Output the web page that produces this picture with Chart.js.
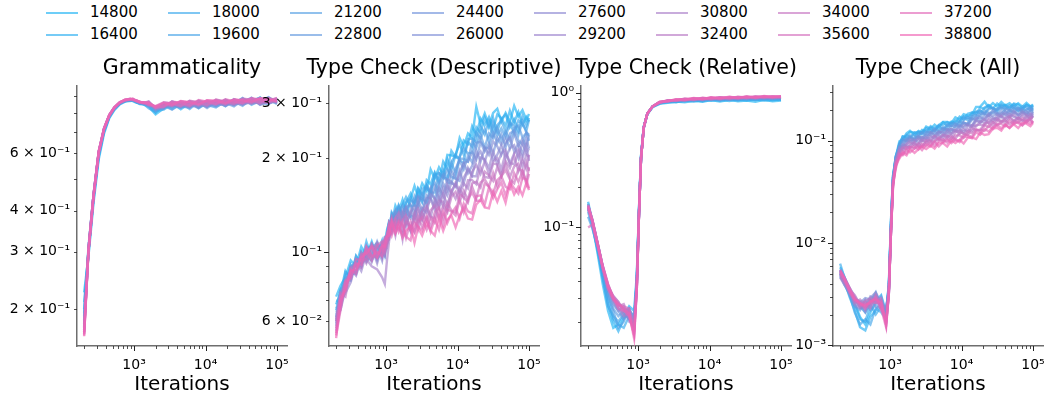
<!DOCTYPE html>
<html>
<head>
<meta charset="utf-8">
<script src="https://cdn.jsdelivr.net/npm/chart.js@4.4.1/dist/chart.umd.min.js"></script>
<style>
  html, body { margin: 0; padding: 0; background: #fff; }
  body { width: 1045px; height: 401px; position: relative; overflow: hidden; font-family: "DejaVu Sans", sans-serif; }
  canvas.panel { position: absolute; top: 70px; }
  .title { position: absolute; top: 57px; font-size: 20.5px; line-height: 1; white-space: nowrap; transform: translateX(-50%); color: #000; }
  .item { position: absolute; height: 20px; font-size: 15px; line-height: 20px; white-space: nowrap; color: #000; }
  .item .swatch { position: absolute; left: 0; top: 10px; width: 32px; height: 2px; }
  .item .lab { position: absolute; left: 44px; top: 0; }
</style>
</head>
<body>
<div id="legend"></div>
<canvas id="c0" class="panel"></canvas>
<canvas id="c1" class="panel"></canvas>
<canvas id="c2" class="panel"></canvas>
<canvas id="c3" class="panel"></canvas>
<div id="titles"></div>
<script>
// checkpoints shown in the legend
const checkpoints = [14800, 16400, 18000, 19600, 21200, 22800, 24400, 26000, 27600, 29200, 30800, 32400, 34000, 35600, 37200, 38800];

// iterations: coarse grid (smooth panels) and dense grid (noisy panels)
const iterations = [200, 230, 270, 320, 380, 450, 530, 630, 750, 880, 960, 1030, 1100, 1200, 1350, 1600, 2000, 2600, 3400, 4500, 6000, 8000, 10500, 14000, 19000, 25000, 33000, 44000, 58000, 76000, 100000];
const iterationsDense = [200, 230, 270, 320, 380, 450, 530, 630, 750, 880, 960, 1030,
  1100, 1200, 1350, 1500, 1700, 1900, 2200, 2500, 2800, 3200, 3700, 4200, 4800, 5500, 6300, 7200, 8200, 9400, 10700, 12200, 14000, 16000, 18300, 21000, 24000, 27500, 31500, 36000, 41000, 47000, 54000, 62000, 71000, 81000, 92000, 100000];

const panelTitles = ['Grammaticality', 'Type Check (Descriptive)', 'Type Check (Relative)', 'Type Check (All)'];

// x ticks
const xTicks = [200, 300, 400, 500, 600, 700, 800, 900, 1000, 2000, 3000, 4000, 5000, 6000, 7000, 8000, 9000, 10000, 20000, 30000, 40000, 50000, 60000, 70000, 80000, 90000, 100000];
const xTickLabels = ['', '', '', '', '', '', '', '', '10³', '', '', '', '', '', '', '', '', '10⁴', '', '', '', '', '', '', '', '', '10⁵'];

// y ticks per panel
const yTicksGram = [0.2, 0.3, 0.4, 0.5, 0.6, 0.7, 0.8, 0.9];
const yLabelsGram = ['2 × 10⁻¹', '3 × 10⁻¹', '4 × 10⁻¹', '', '6 × 10⁻¹', '', '', ''];
const yTicksDesc = [0.06, 0.07, 0.08, 0.09, 0.1, 0.2, 0.3];
const yLabelsDesc = ['6 × 10⁻²', '', '', '', '10⁻¹', '2 × 10⁻¹', '3 × 10⁻¹'];
const yTicksRel = [0.02, 0.03, 0.04, 0.05, 0.06, 0.07, 0.08, 0.09, 0.1, 0.2, 0.3, 0.4, 0.5, 0.6, 0.7, 0.8, 0.9, 1];
const yLabelsRel = ['', '', '', '', '', '', '', '', '10⁻¹', '', '', '', '', '', '', '', '', '10⁰'];
const yTicksAll = [0.001, 0.002, 0.003, 0.004, 0.005, 0.006, 0.007, 0.008, 0.009, 0.01, 0.02, 0.03, 0.04, 0.05, 0.06, 0.07, 0.08, 0.09, 0.1, 0.2, 0.3];
const yLabelsAll = ['10⁻³', '', '', '', '', '', '', '', '', '10⁻²', '', '', '', '', '', '', '', '', '10⁻¹', '', ''];

// Grammaticality (coarse grid), one row per checkpoint
const grammaticality = [
  [0.225, 0.29, 0.42, 0.575, 0.69, 0.77, 0.815, 0.848, 0.865, 0.872, 0.868, 0.862, 0.858, 0.85, 0.848, 0.834, 0.79, 0.825, 0.856, 0.819, 0.857, 0.831, 0.864, 0.84, 0.877, 0.844, 0.884, 0.86, 0.891, 0.859, 0.883],
  [0.21, 0.295, 0.43, 0.585, 0.7, 0.775, 0.82, 0.852, 0.87, 0.868, 0.873, 0.866, 0.86, 0.854, 0.851, 0.842, 0.8, 0.845, 0.82, 0.855, 0.835, 0.859, 0.834, 0.87, 0.841, 0.876, 0.85, 0.886, 0.851, 0.887, 0.865],
  [0.2, 0.305, 0.44, 0.59, 0.705, 0.78, 0.823, 0.856, 0.867, 0.876, 0.87, 0.868, 0.858, 0.856, 0.849, 0.852, 0.81, 0.817, 0.85, 0.831, 0.867, 0.825, 0.856, 0.872, 0.837, 0.88, 0.858, 0.868, 0.889, 0.855, 0.879],
  [0.195, 0.3, 0.435, 0.595, 0.7, 0.776, 0.822, 0.85, 0.872, 0.871, 0.876, 0.864, 0.862, 0.852, 0.853, 0.826, 0.804, 0.849, 0.832, 0.859, 0.821, 0.865, 0.846, 0.83, 0.869, 0.854, 0.888, 0.846, 0.873, 0.879, 0.851],
  [0.19, 0.31, 0.445, 0.6, 0.71, 0.782, 0.826, 0.855, 0.868, 0.877, 0.871, 0.87, 0.863, 0.858, 0.85, 0.86, 0.816, 0.827, 0.86, 0.837, 0.829, 0.869, 0.838, 0.866, 0.847, 0.866, 0.84, 0.882, 0.859, 0.849, 0.885],
  [0.185, 0.3, 0.44, 0.6, 0.708, 0.779, 0.824, 0.853, 0.871, 0.873, 0.877, 0.867, 0.866, 0.855, 0.856, 0.844, 0.824, 0.841, 0.818, 0.849, 0.863, 0.835, 0.868, 0.848, 0.857, 0.836, 0.874, 0.856, 0.867, 0.893, 0.859],
  [0.18, 0.305, 0.445, 0.605, 0.712, 0.784, 0.827, 0.857, 0.869, 0.878, 0.872, 0.871, 0.862, 0.86, 0.852, 0.854, 0.812, 0.853, 0.844, 0.827, 0.853, 0.861, 0.826, 0.862, 0.871, 0.85, 0.862, 0.89, 0.845, 0.871, 0.875],
  [0.178, 0.3, 0.44, 0.6, 0.71, 0.781, 0.825, 0.854, 0.873, 0.874, 0.878, 0.869, 0.867, 0.857, 0.857, 0.838, 0.828, 0.823, 0.866, 0.845, 0.835, 0.867, 0.852, 0.836, 0.861, 0.876, 0.848, 0.864, 0.883, 0.855, 0.867],
  [0.176, 0.305, 0.445, 0.605, 0.714, 0.785, 0.828, 0.858, 0.87, 0.879, 0.874, 0.872, 0.864, 0.861, 0.854, 0.864, 0.818, 0.843, 0.834, 0.863, 0.847, 0.827, 0.866, 0.86, 0.839, 0.862, 0.882, 0.854, 0.861, 0.889, 0.853],
  [0.175, 0.3, 0.44, 0.602, 0.711, 0.782, 0.826, 0.856, 0.874, 0.876, 0.879, 0.87, 0.868, 0.858, 0.858, 0.848, 0.832, 0.855, 0.848, 0.833, 0.867, 0.851, 0.834, 0.874, 0.859, 0.844, 0.872, 0.88, 0.847, 0.865, 0.881],
  [0.173, 0.305, 0.445, 0.607, 0.715, 0.786, 0.829, 0.859, 0.872, 0.88, 0.875, 0.873, 0.865, 0.862, 0.855, 0.856, 0.822, 0.829, 0.862, 0.851, 0.831, 0.869, 0.856, 0.846, 0.875, 0.858, 0.846, 0.874, 0.887, 0.859, 0.871],
  [0.172, 0.3, 0.44, 0.603, 0.712, 0.783, 0.827, 0.857, 0.875, 0.877, 0.88, 0.871, 0.869, 0.859, 0.859, 0.842, 0.836, 0.847, 0.838, 0.865, 0.855, 0.839, 0.87, 0.858, 0.845, 0.878, 0.864, 0.852, 0.875, 0.883, 0.857],
  [0.17, 0.305, 0.445, 0.608, 0.716, 0.787, 0.83, 0.86, 0.873, 0.881, 0.876, 0.874, 0.866, 0.863, 0.856, 0.866, 0.826, 0.859, 0.852, 0.837, 0.869, 0.857, 0.84, 0.876, 0.863, 0.848, 0.88, 0.872, 0.853, 0.873, 0.887],
  [0.17, 0.3, 0.44, 0.604, 0.713, 0.784, 0.828, 0.858, 0.876, 0.878, 0.881, 0.872, 0.87, 0.86, 0.86, 0.85, 0.834, 0.835, 0.864, 0.853, 0.839, 0.871, 0.86, 0.848, 0.877, 0.862, 0.854, 0.886, 0.869, 0.857, 0.875],
  [0.168, 0.305, 0.445, 0.609, 0.717, 0.788, 0.831, 0.861, 0.874, 0.882, 0.877, 0.875, 0.867, 0.864, 0.857, 0.86, 0.83, 0.851, 0.84, 0.867, 0.859, 0.845, 0.872, 0.866, 0.851, 0.876, 0.87, 0.858, 0.885, 0.877, 0.863],
  [0.168, 0.3, 0.44, 0.605, 0.714, 0.785, 0.829, 0.859, 0.877, 0.879, 0.882, 0.873, 0.871, 0.861, 0.861, 0.846, 0.838, 0.861, 0.854, 0.841, 0.871, 0.861, 0.846, 0.878, 0.865, 0.854, 0.884, 0.876, 0.859, 0.887, 0.873],
  [0.166, 0.305, 0.445, 0.61, 0.718, 0.789, 0.832, 0.862, 0.875, 0.883, 0.878, 0.876, 0.868, 0.865, 0.858, 0.862, 0.828, 0.837, 0.866, 0.857, 0.843, 0.875, 0.864, 0.852, 0.879, 0.866, 0.856, 0.888, 0.875, 0.863, 0.889],
  [0.165, 0.3, 0.44, 0.606, 0.715, 0.786, 0.83, 0.86, 0.878, 0.88, 0.883, 0.874, 0.872, 0.862, 0.862, 0.854, 0.836, 0.857, 0.846, 0.869, 0.861, 0.849, 0.874, 0.87, 0.855, 0.88, 0.872, 0.864, 0.887, 0.879, 0.869]
];

// Type Check (Descriptive) (dense grid)
const typeCheckDescriptive = [
  [0.072, 0.078, 0.083, 0.094, 0.09, 0.104, 0.097, 0.108, 0.096, 0.106, 0.1, 0.118, 0.124, 0.123, 0.141, 0.134, 0.147, 0.134, 0.148, 0.163, 0.151, 0.166, 0.157, 0.184, 0.172, 0.187, 0.177, 0.205, 0.204, 0.202, 0.232, 0.218, 0.24, 0.233, 0.292, 0.257, 0.278, 0.254, 0.279, 0.288, 0.262, 0.279, 0.261, 0.294, 0.272, 0.285, 0.265, 0.277],
  [0.068, 0.074, 0.087, 0.082, 0.097, 0.092, 0.108, 0.096, 0.105, 0.097, 0.112, 0.113, 0.118, 0.133, 0.128, 0.141, 0.131, 0.144, 0.154, 0.144, 0.159, 0.146, 0.17, 0.165, 0.18, 0.169, 0.195, 0.185, 0.211, 0.201, 0.201, 0.228, 0.222, 0.253, 0.238, 0.268, 0.255, 0.271, 0.248, 0.276, 0.269, 0.254, 0.284, 0.26, 0.281, 0.256, 0.271, 0.262],
  [0.065, 0.076, 0.079, 0.091, 0.086, 0.1, 0.094, 0.106, 0.099, 0.109, 0.1, 0.116, 0.125, 0.123, 0.134, 0.127, 0.142, 0.15, 0.14, 0.141, 0.16, 0.153, 0.164, 0.153, 0.177, 0.179, 0.173, 0.198, 0.183, 0.206, 0.222, 0.205, 0.225, 0.218, 0.251, 0.241, 0.27, 0.25, 0.269, 0.244, 0.267, 0.276, 0.251, 0.266, 0.245, 0.273, 0.255, 0.269],
  [0.07, 0.069, 0.086, 0.083, 0.097, 0.09, 0.103, 0.104, 0.095, 0.101, 0.11, 0.108, 0.114, 0.134, 0.128, 0.138, 0.129, 0.144, 0.149, 0.141, 0.14, 0.16, 0.16, 0.155, 0.178, 0.166, 0.183, 0.171, 0.194, 0.205, 0.197, 0.193, 0.23, 0.231, 0.225, 0.253, 0.238, 0.263, 0.237, 0.255, 0.264, 0.243, 0.262, 0.239, 0.264, 0.257, 0.245, 0.265],
  [0.062, 0.075, 0.076, 0.089, 0.093, 0.096, 0.095, 0.103, 0.107, 0.097, 0.104, 0.115, 0.121, 0.12, 0.135, 0.141, 0.131, 0.129, 0.146, 0.144, 0.152, 0.144, 0.163, 0.155, 0.155, 0.179, 0.174, 0.171, 0.193, 0.179, 0.202, 0.215, 0.207, 0.208, 0.241, 0.231, 0.248, 0.227, 0.259, 0.236, 0.249, 0.234, 0.259, 0.254, 0.237, 0.262, 0.241, 0.236],
  [0.066, 0.068, 0.082, 0.086, 0.085, 0.1, 0.096, 0.094, 0.104, 0.106, 0.098, 0.11, 0.114, 0.13, 0.121, 0.135, 0.141, 0.132, 0.13, 0.151, 0.143, 0.153, 0.142, 0.16, 0.167, 0.157, 0.172, 0.184, 0.174, 0.172, 0.199, 0.199, 0.195, 0.226, 0.216, 0.237, 0.216, 0.24, 0.232, 0.25, 0.228, 0.243, 0.228, 0.25, 0.254, 0.233, 0.241, 0.227],
  [0.06, 0.072, 0.075, 0.09, 0.092, 0.09, 0.105, 0.097, 0.108, 0.099, 0.108, 0.107, 0.125, 0.122, 0.132, 0.124, 0.133, 0.14, 0.13, 0.131, 0.151, 0.148, 0.144, 0.16, 0.147, 0.166, 0.177, 0.167, 0.166, 0.185, 0.197, 0.184, 0.203, 0.194, 0.224, 0.226, 0.216, 0.215, 0.241, 0.224, 0.239, 0.217, 0.24, 0.245, 0.228, 0.221, 0.242, 0.238],
  [0.064, 0.066, 0.08, 0.081, 0.095, 0.093, 0.098, 0.106, 0.094, 0.107, 0.101, 0.112, 0.112, 0.128, 0.136, 0.125, 0.128, 0.139, 0.142, 0.133, 0.142, 0.133, 0.152, 0.148, 0.162, 0.149, 0.166, 0.158, 0.182, 0.172, 0.169, 0.193, 0.195, 0.209, 0.198, 0.225, 0.21, 0.223, 0.207, 0.232, 0.221, 0.233, 0.215, 0.24, 0.219, 0.231, 0.217, 0.237],
  [0.058, 0.071, 0.081, 0.084, 0.087, 0.098, 0.093, 0.1, 0.104, 0.094, 0.106, 0.109, 0.123, 0.116, 0.128, 0.135, 0.125, 0.138, 0.128, 0.128, 0.147, 0.136, 0.149, 0.149, 0.14, 0.161, 0.151, 0.171, 0.168, 0.162, 0.18, 0.193, 0.179, 0.189, 0.211, 0.195, 0.216, 0.205, 0.226, 0.218, 0.205, 0.224, 0.233, 0.21, 0.223, 0.206, 0.23, 0.215],
  [0.063, 0.065, 0.076, 0.088, 0.084, 0.095, 0.102, 0.093, 0.105, 0.1, 0.097, 0.111, 0.11, 0.129, 0.122, 0.131, 0.136, 0.123, 0.134, 0.14, 0.127, 0.138, 0.134, 0.153, 0.149, 0.141, 0.161, 0.152, 0.167, 0.163, 0.182, 0.166, 0.186, 0.176, 0.201, 0.21, 0.195, 0.214, 0.197, 0.205, 0.22, 0.2, 0.215, 0.22, 0.2, 0.224, 0.207, 0.215],
  [0.059, 0.07, 0.074, 0.08, 0.093, 0.087, 0.099, 0.104, 0.092, 0.105, 0.106, 0.104, 0.121, 0.129, 0.12, 0.124, 0.133, 0.121, 0.136, 0.127, 0.137, 0.127, 0.14, 0.147, 0.137, 0.15, 0.14, 0.164, 0.154, 0.167, 0.157, 0.173, 0.184, 0.175, 0.175, 0.201, 0.198, 0.186, 0.21, 0.191, 0.207, 0.213, 0.192, 0.207, 0.214, 0.2, 0.218, 0.196],
  [0.061, 0.073, 0.081, 0.086, 0.091, 0.092, 0.095, 0.09, 0.088, 0.083, 0.079, 0.094, 0.108, 0.126, 0.113, 0.129, 0.11, 0.131, 0.117, 0.133, 0.138, 0.127, 0.138, 0.129, 0.147, 0.138, 0.154, 0.141, 0.157, 0.165, 0.153, 0.166, 0.16, 0.181, 0.19, 0.178, 0.195, 0.178, 0.195, 0.2, 0.184, 0.208, 0.193, 0.191, 0.209, 0.187, 0.205, 0.202],
  [0.056, 0.066, 0.079, 0.087, 0.086, 0.099, 0.092, 0.101, 0.107, 0.096, 0.109, 0.111, 0.123, 0.116, 0.128, 0.133, 0.118, 0.125, 0.117, 0.133, 0.124, 0.135, 0.141, 0.13, 0.128, 0.146, 0.145, 0.137, 0.157, 0.148, 0.16, 0.149, 0.17, 0.17, 0.165, 0.187, 0.174, 0.173, 0.192, 0.191, 0.176, 0.196, 0.186, 0.204, 0.182, 0.198, 0.185, 0.205],
  [0.06, 0.074, 0.072, 0.089, 0.091, 0.089, 0.103, 0.097, 0.096, 0.106, 0.099, 0.106, 0.111, 0.127, 0.121, 0.118, 0.127, 0.131, 0.118, 0.128, 0.118, 0.133, 0.126, 0.136, 0.141, 0.128, 0.141, 0.134, 0.15, 0.156, 0.145, 0.157, 0.147, 0.166, 0.168, 0.161, 0.181, 0.176, 0.169, 0.187, 0.175, 0.192, 0.174, 0.188, 0.192, 0.174, 0.194, 0.182],
  [0.057, 0.067, 0.081, 0.082, 0.095, 0.094, 0.095, 0.106, 0.099, 0.101, 0.111, 0.113, 0.123, 0.116, 0.128, 0.12, 0.114, 0.125, 0.121, 0.116, 0.131, 0.12, 0.131, 0.12, 0.134, 0.139, 0.129, 0.144, 0.136, 0.134, 0.153, 0.15, 0.144, 0.162, 0.149, 0.167, 0.171, 0.162, 0.179, 0.162, 0.175, 0.183, 0.171, 0.166, 0.185, 0.182, 0.169, 0.187],
  [0.055, 0.072, 0.075, 0.088, 0.085, 0.098, 0.1, 0.094, 0.105, 0.108, 0.101, 0.108, 0.113, 0.125, 0.115, 0.126, 0.122, 0.111, 0.125, 0.116, 0.125, 0.129, 0.118, 0.129, 0.124, 0.136, 0.122, 0.137, 0.135, 0.131, 0.147, 0.134, 0.148, 0.155, 0.146, 0.146, 0.166, 0.162, 0.154, 0.17, 0.175, 0.162, 0.159, 0.179, 0.168, 0.181, 0.165, 0.178],
  [0.054, 0.065, 0.08, 0.083, 0.092, 0.091, 0.104, 0.097, 0.1, 0.097, 0.109, 0.114, 0.12, 0.113, 0.123, 0.116, 0.125, 0.112, 0.109, 0.124, 0.121, 0.117, 0.128, 0.116, 0.128, 0.118, 0.135, 0.124, 0.133, 0.139, 0.128, 0.143, 0.135, 0.133, 0.151, 0.152, 0.142, 0.161, 0.149, 0.159, 0.167, 0.152, 0.168, 0.16, 0.154, 0.173, 0.171, 0.16],
  [0.053, 0.07, 0.076, 0.087, 0.088, 0.096, 0.099, 0.104, 0.096, 0.105, 0.104, 0.112, 0.113, 0.125, 0.115, 0.123, 0.111, 0.117, 0.121, 0.107, 0.12, 0.113, 0.124, 0.117, 0.113, 0.129, 0.117, 0.127, 0.131, 0.12, 0.131, 0.138, 0.128, 0.127, 0.142, 0.147, 0.139, 0.138, 0.156, 0.145, 0.157, 0.144, 0.166, 0.153, 0.162, 0.152, 0.167, 0.158]
];

// Type Check (Relative) (coarse grid)
const typeCheckRelative = [
  [0.15, 0.105, 0.065, 0.038, 0.024, 0.018, 0.019, 0.022, 0.026, 0.024, 0.045, 0.14, 0.34, 0.56, 0.69, 0.78, 0.825, 0.838, 0.858, 0.847, 0.87, 0.854, 0.879, 0.858, 0.883, 0.862, 0.874, 0.854, 0.882, 0.86, 0.872],
  [0.155, 0.108, 0.068, 0.042, 0.027, 0.02, 0.017, 0.021, 0.024, 0.022, 0.042, 0.135, 0.335, 0.555, 0.695, 0.782, 0.837, 0.845, 0.852, 0.868, 0.857, 0.881, 0.867, 0.885, 0.865, 0.888, 0.871, 0.888, 0.872, 0.88, 0.887],
  [0.13, 0.1, 0.07, 0.045, 0.03, 0.021, 0.019, 0.018, 0.022, 0.02, 0.04, 0.13, 0.33, 0.55, 0.7, 0.785, 0.828, 0.86, 0.848, 0.873, 0.878, 0.863, 0.89, 0.873, 0.895, 0.874, 0.895, 0.881, 0.899, 0.88, 0.889],
  [0.145, 0.112, 0.072, 0.043, 0.026, 0.022, 0.02, 0.023, 0.021, 0.019, 0.043, 0.138, 0.34, 0.56, 0.7, 0.787, 0.842, 0.85, 0.87, 0.862, 0.885, 0.872, 0.894, 0.876, 0.898, 0.883, 0.904, 0.885, 0.893, 0.905, 0.893],
  [0.12, 0.098, 0.071, 0.047, 0.031, 0.024, 0.018, 0.02, 0.025, 0.021, 0.039, 0.128, 0.325, 0.545, 0.7, 0.788, 0.834, 0.863, 0.861, 0.88, 0.872, 0.895, 0.879, 0.897, 0.884, 0.901, 0.889, 0.908, 0.894, 0.9, 0.908],
  [0.14, 0.108, 0.074, 0.048, 0.033, 0.025, 0.022, 0.024, 0.022, 0.02, 0.041, 0.132, 0.33, 0.55, 0.7, 0.789, 0.845, 0.853, 0.875, 0.868, 0.891, 0.875, 0.901, 0.882, 0.907, 0.888, 0.91, 0.893, 0.914, 0.898, 0.905],
  [0.135, 0.11, 0.076, 0.05, 0.034, 0.027, 0.024, 0.021, 0.024, 0.019, 0.038, 0.127, 0.325, 0.545, 0.7, 0.79, 0.837, 0.868, 0.864, 0.886, 0.875, 0.899, 0.885, 0.906, 0.887, 0.91, 0.895, 0.915, 0.902, 0.91, 0.917],
  [0.142, 0.112, 0.077, 0.051, 0.036, 0.029, 0.025, 0.023, 0.021, 0.018, 0.04, 0.13, 0.33, 0.55, 0.7, 0.79, 0.848, 0.856, 0.879, 0.87, 0.896, 0.881, 0.906, 0.887, 0.913, 0.895, 0.918, 0.9, 0.92, 0.904, 0.914],
  [0.138, 0.109, 0.075, 0.049, 0.035, 0.03, 0.027, 0.025, 0.023, 0.021, 0.039, 0.128, 0.328, 0.548, 0.7, 0.79, 0.839, 0.869, 0.867, 0.891, 0.878, 0.902, 0.888, 0.91, 0.893, 0.916, 0.901, 0.921, 0.908, 0.92, 0.911],
  [0.145, 0.113, 0.078, 0.052, 0.037, 0.028, 0.024, 0.026, 0.02, 0.019, 0.037, 0.125, 0.322, 0.545, 0.7, 0.79, 0.849, 0.858, 0.882, 0.874, 0.899, 0.884, 0.91, 0.891, 0.917, 0.9, 0.922, 0.904, 0.926, 0.908, 0.922],
  [0.14, 0.11, 0.076, 0.05, 0.036, 0.031, 0.028, 0.024, 0.025, 0.02, 0.038, 0.128, 0.328, 0.55, 0.7, 0.79, 0.84, 0.872, 0.87, 0.894, 0.882, 0.907, 0.892, 0.915, 0.897, 0.92, 0.905, 0.926, 0.912, 0.926, 0.917],
  [0.143, 0.112, 0.077, 0.051, 0.035, 0.029, 0.026, 0.022, 0.023, 0.018, 0.036, 0.125, 0.325, 0.548, 0.7, 0.79, 0.85, 0.86, 0.883, 0.877, 0.901, 0.887, 0.913, 0.895, 0.921, 0.902, 0.926, 0.909, 0.93, 0.914, 0.927],
  [0.148, 0.114, 0.078, 0.052, 0.038, 0.03, 0.027, 0.025, 0.024, 0.017, 0.037, 0.127, 0.327, 0.55, 0.7, 0.79, 0.842, 0.873, 0.873, 0.896, 0.885, 0.909, 0.896, 0.919, 0.902, 0.925, 0.91, 0.93, 0.918, 0.932, 0.921],
  [0.136, 0.108, 0.075, 0.05, 0.036, 0.03, 0.026, 0.027, 0.022, 0.018, 0.036, 0.126, 0.326, 0.55, 0.7, 0.79, 0.852, 0.861, 0.886, 0.88, 0.904, 0.89, 0.916, 0.9, 0.924, 0.907, 0.931, 0.913, 0.934, 0.918, 0.932],
  [0.144, 0.112, 0.077, 0.051, 0.037, 0.031, 0.028, 0.024, 0.023, 0.016, 0.035, 0.124, 0.324, 0.548, 0.7, 0.79, 0.843, 0.875, 0.874, 0.9, 0.888, 0.912, 0.9, 0.922, 0.906, 0.928, 0.914, 0.934, 0.922, 0.936, 0.926],
  [0.1, 0.105, 0.074, 0.05, 0.035, 0.029, 0.027, 0.026, 0.025, 0.017, 0.036, 0.126, 0.326, 0.55, 0.7, 0.79, 0.853, 0.863, 0.889, 0.881, 0.907, 0.894, 0.919, 0.903, 0.927, 0.911, 0.934, 0.918, 0.939, 0.923, 0.936],
  [0.146, 0.113, 0.077, 0.052, 0.038, 0.03, 0.025, 0.024, 0.022, 0.016, 0.035, 0.125, 0.325, 0.55, 0.7, 0.79, 0.844, 0.876, 0.877, 0.902, 0.891, 0.915, 0.902, 0.925, 0.909, 0.931, 0.919, 0.937, 0.925, 0.939, 0.93],
  [0.142, 0.111, 0.076, 0.051, 0.037, 0.03, 0.027, 0.025, 0.023, 0.015, 0.035, 0.124, 0.324, 0.55, 0.7, 0.79, 0.855, 0.864, 0.891, 0.884, 0.91, 0.897, 0.922, 0.907, 0.93, 0.914, 0.937, 0.92, 0.942, 0.927, 0.941]
];

// Type Check (All) (dense grid)
const typeCheckAll = [
  [0.0058, 0.0047, 0.0034, 0.0026, 0.0019, 0.0016, 0.0021, 0.0027, 0.0031, 0.0021, 0.004, 0.017, 0.046, 0.069, 0.099, 0.103, 0.118, 0.125, 0.115, 0.125, 0.12, 0.138, 0.131, 0.144, 0.133, 0.153, 0.153, 0.149, 0.17, 0.161, 0.182, 0.176, 0.179, 0.214, 0.216, 0.241, 0.213, 0.234, 0.216, 0.24, 0.221, 0.233, 0.214, 0.233, 0.216, 0.235, 0.217, 0.222],
  [0.0055, 0.0043, 0.003, 0.0022, 0.0015, 0.0014, 0.0019, 0.0022, 0.0027, 0.0019, 0.0036, 0.016, 0.044, 0.071, 0.088, 0.11, 0.11, 0.122, 0.12, 0.114, 0.128, 0.124, 0.139, 0.13, 0.143, 0.152, 0.14, 0.154, 0.151, 0.172, 0.162, 0.184, 0.189, 0.183, 0.212, 0.205, 0.223, 0.206, 0.232, 0.214, 0.225, 0.212, 0.231, 0.226, 0.205, 0.226, 0.212, 0.227],
  [0.0063, 0.0046, 0.0036, 0.0025, 0.0018, 0.0017, 0.0025, 0.002, 0.0024, 0.0022, 0.0038, 0.016, 0.046, 0.066, 0.094, 0.11, 0.106, 0.106, 0.121, 0.122, 0.116, 0.133, 0.126, 0.125, 0.141, 0.143, 0.152, 0.141, 0.158, 0.152, 0.174, 0.166, 0.189, 0.191, 0.185, 0.212, 0.222, 0.206, 0.203, 0.226, 0.219, 0.206, 0.228, 0.21, 0.203, 0.222, 0.218, 0.203],
  [0.005, 0.0039, 0.0032, 0.0021, 0.0016, 0.0018, 0.0016, 0.0023, 0.0021, 0.0018, 0.0034, 0.015, 0.042, 0.07, 0.093, 0.098, 0.114, 0.109, 0.106, 0.122, 0.12, 0.118, 0.135, 0.124, 0.14, 0.129, 0.144, 0.15, 0.142, 0.157, 0.17, 0.159, 0.172, 0.193, 0.197, 0.186, 0.211, 0.21, 0.198, 0.222, 0.204, 0.221, 0.206, 0.197, 0.217, 0.214, 0.198, 0.219],
  [0.0054, 0.0044, 0.0035, 0.0028, 0.0024, 0.0021, 0.0027, 0.0033, 0.0023, 0.0021, 0.0037, 0.015, 0.044, 0.063, 0.094, 0.103, 0.101, 0.113, 0.113, 0.106, 0.122, 0.124, 0.119, 0.134, 0.126, 0.136, 0.13, 0.149, 0.149, 0.141, 0.159, 0.17, 0.163, 0.175, 0.197, 0.182, 0.203, 0.21, 0.191, 0.208, 0.213, 0.199, 0.217, 0.195, 0.208, 0.196, 0.215, 0.198],
  [0.0047, 0.004, 0.0031, 0.0024, 0.0022, 0.0027, 0.0022, 0.0025, 0.003, 0.002, 0.0035, 0.015, 0.041, 0.069, 0.085, 0.103, 0.099, 0.109, 0.102, 0.115, 0.12, 0.111, 0.123, 0.13, 0.123, 0.122, 0.141, 0.14, 0.136, 0.153, 0.149, 0.148, 0.175, 0.178, 0.173, 0.196, 0.188, 0.185, 0.205, 0.21, 0.193, 0.188, 0.206, 0.21, 0.192, 0.204, 0.209, 0.192],
  [0.0053, 0.0046, 0.0037, 0.003, 0.0025, 0.0021, 0.0026, 0.0032, 0.0025, 0.0022, 0.0036, 0.014, 0.044, 0.064, 0.089, 0.089, 0.104, 0.109, 0.102, 0.11, 0.105, 0.121, 0.122, 0.116, 0.122, 0.133, 0.122, 0.139, 0.146, 0.138, 0.15, 0.145, 0.166, 0.158, 0.184, 0.185, 0.179, 0.2, 0.186, 0.183, 0.204, 0.198, 0.187, 0.207, 0.191, 0.184, 0.2, 0.204],
  [0.0051, 0.0042, 0.0032, 0.0027, 0.0026, 0.0029, 0.0028, 0.0024, 0.0023, 0.0019, 0.0034, 0.014, 0.04, 0.068, 0.08, 0.096, 0.104, 0.098, 0.106, 0.111, 0.102, 0.115, 0.114, 0.125, 0.115, 0.129, 0.13, 0.122, 0.141, 0.134, 0.152, 0.142, 0.16, 0.17, 0.159, 0.179, 0.175, 0.194, 0.179, 0.194, 0.179, 0.2, 0.194, 0.182, 0.2, 0.179, 0.197, 0.185],
  [0.0048, 0.0041, 0.0035, 0.0029, 0.0023, 0.0024, 0.003, 0.0028, 0.0027, 0.0021, 0.0035, 0.014, 0.042, 0.06, 0.087, 0.088, 0.098, 0.104, 0.095, 0.107, 0.109, 0.104, 0.12, 0.113, 0.123, 0.114, 0.129, 0.13, 0.125, 0.142, 0.135, 0.147, 0.141, 0.165, 0.17, 0.161, 0.184, 0.174, 0.185, 0.171, 0.192, 0.178, 0.196, 0.178, 0.189, 0.194, 0.176, 0.191],
  [0.0052, 0.0045, 0.0034, 0.0028, 0.0027, 0.0023, 0.0029, 0.0033, 0.0026, 0.0023, 0.0034, 0.014, 0.038, 0.064, 0.085, 0.085, 0.092, 0.103, 0.102, 0.096, 0.109, 0.104, 0.112, 0.105, 0.121, 0.122, 0.114, 0.13, 0.124, 0.124, 0.142, 0.143, 0.139, 0.16, 0.149, 0.167, 0.179, 0.167, 0.165, 0.184, 0.183, 0.17, 0.189, 0.176, 0.192, 0.174, 0.185, 0.171],
  [0.005, 0.0041, 0.0033, 0.0025, 0.0023, 0.0028, 0.0024, 0.003, 0.0024, 0.0018, 0.0032, 0.014, 0.041, 0.064, 0.076, 0.092, 0.089, 0.089, 0.1, 0.104, 0.099, 0.109, 0.101, 0.112, 0.113, 0.108, 0.124, 0.116, 0.129, 0.129, 0.122, 0.139, 0.136, 0.156, 0.155, 0.15, 0.17, 0.156, 0.177, 0.176, 0.166, 0.184, 0.171, 0.166, 0.183, 0.181, 0.165, 0.185],
  [0.0046, 0.0039, 0.0034, 0.0029, 0.0026, 0.0022, 0.0028, 0.0026, 0.0028, 0.0016, 0.0031, 0.013, 0.038, 0.064, 0.08, 0.081, 0.093, 0.098, 0.09, 0.094, 0.103, 0.095, 0.108, 0.112, 0.105, 0.115, 0.107, 0.118, 0.126, 0.117, 0.13, 0.122, 0.142, 0.138, 0.153, 0.162, 0.149, 0.165, 0.159, 0.174, 0.157, 0.172, 0.179, 0.163, 0.176, 0.162, 0.181, 0.169],
  [0.0051, 0.0044, 0.0036, 0.0026, 0.0028, 0.0025, 0.0023, 0.0029, 0.0022, 0.0019, 0.0033, 0.013, 0.041, 0.057, 0.081, 0.085, 0.083, 0.093, 0.097, 0.088, 0.1, 0.101, 0.097, 0.11, 0.102, 0.113, 0.112, 0.105, 0.121, 0.126, 0.117, 0.129, 0.124, 0.143, 0.144, 0.141, 0.16, 0.15, 0.166, 0.152, 0.167, 0.173, 0.157, 0.168, 0.156, 0.175, 0.162, 0.174],
  [0.0054, 0.0045, 0.0035, 0.0031, 0.0025, 0.0027, 0.0029, 0.0027, 0.0029, 0.0017, 0.0032, 0.013, 0.037, 0.061, 0.07, 0.086, 0.087, 0.084, 0.094, 0.088, 0.087, 0.101, 0.101, 0.097, 0.108, 0.102, 0.111, 0.112, 0.105, 0.12, 0.119, 0.114, 0.133, 0.127, 0.128, 0.148, 0.15, 0.14, 0.158, 0.157, 0.148, 0.167, 0.154, 0.168, 0.159, 0.152, 0.17, 0.166],
  [0.0049, 0.0042, 0.0036, 0.0027, 0.0024, 0.0026, 0.0025, 0.0031, 0.0024, 0.0017, 0.0031, 0.013, 0.04, 0.056, 0.076, 0.074, 0.086, 0.087, 0.084, 0.094, 0.088, 0.098, 0.091, 0.1, 0.105, 0.097, 0.106, 0.099, 0.113, 0.113, 0.107, 0.123, 0.118, 0.13, 0.122, 0.142, 0.136, 0.153, 0.141, 0.153, 0.159, 0.145, 0.157, 0.151, 0.166, 0.152, 0.164, 0.15],
  [0.0052, 0.0044, 0.0033, 0.0028, 0.0026, 0.0023, 0.0027, 0.0026, 0.0027, 0.0016, 0.0033, 0.013, 0.036, 0.06, 0.07, 0.079, 0.075, 0.087, 0.088, 0.082, 0.093, 0.089, 0.098, 0.089, 0.099, 0.103, 0.096, 0.108, 0.101, 0.101, 0.114, 0.114, 0.109, 0.127, 0.128, 0.125, 0.141, 0.13, 0.147, 0.146, 0.139, 0.157, 0.145, 0.157, 0.143, 0.161, 0.157, 0.148],
  [0.0055, 0.0046, 0.0037, 0.0029, 0.0025, 0.0025, 0.0026, 0.0029, 0.0023, 0.0015, 0.0032, 0.013, 0.038, 0.053, 0.074, 0.072, 0.082, 0.077, 0.084, 0.088, 0.081, 0.092, 0.088, 0.098, 0.088, 0.097, 0.102, 0.095, 0.104, 0.097, 0.109, 0.11, 0.106, 0.121, 0.115, 0.131, 0.123, 0.136, 0.143, 0.132, 0.144, 0.133, 0.151, 0.149, 0.141, 0.155, 0.146, 0.156],
  [0.0053, 0.0045, 0.0035, 0.0028, 0.0026, 0.0024, 0.0027, 0.0028, 0.0026, 0.0016, 0.0032, 0.013, 0.035, 0.057, 0.067, 0.076, 0.072, 0.083, 0.076, 0.083, 0.088, 0.083, 0.09, 0.084, 0.095, 0.095, 0.088, 0.101, 0.095, 0.102, 0.094, 0.107, 0.108, 0.104, 0.12, 0.114, 0.116, 0.132, 0.134, 0.126, 0.143, 0.134, 0.145, 0.133, 0.15, 0.147, 0.139, 0.149]
];

// layout
const FONT = '"DejaVu Sans", sans-serif';
const plotLeft = [77, 329, 581, 833];
const plotWidth = 210;
const axisW = 75, padRight = 14;
const xMin = 159, xMax = 138000;

// blue -> pink
function lineColor(i, n) {
  const f = i / (n - 1);
  const r = Math.round(30 + (240 - 30) * f);
  const g = Math.round(180 + (100 - 180) * f);
  const b = Math.round(245 + (180 - 245) * f);
  return `rgba(${r}, ${g}, ${b}, 0.65)`;
}

// tick marks drawn like matplotlib (major longer than minor)
const tickMarks = {
  id: 'tickMarks',
  afterDraw(chart) {
    const ctx = chart.ctx;
    const area = chart.chartArea;
    ctx.save();
    ctx.strokeStyle = '#222';
    const xs = chart.scales.x, ys = chart.scales.y;
    xs.ticks.forEach(t => {
      const px = Math.round(xs.getPixelForValue(t.value)) + 0.5;
      if (px < area.left - 1 || px > area.right + 1) return;
      const len = t.major ? 5 : 3;
      ctx.lineWidth = t.major ? 1 : 0.8;
      ctx.beginPath();
      ctx.moveTo(px, area.bottom);
      ctx.lineTo(px, area.bottom + len);
      ctx.stroke();
    });
    ys.ticks.forEach(t => {
      const py = Math.round(ys.getPixelForValue(t.value)) + 0.5;
      if (py < area.top - 1 || py > area.bottom + 1) return;
      const len = t.major ? 5 : 3;
      ctx.lineWidth = t.major ? 1 : 0.8;
      ctx.beginPath();
      ctx.moveTo(area.left, py);
      ctx.lineTo(area.left - len, py);
      ctx.stroke();
    });
    ctx.restore();
  }
};

function isPow10(v) {
  const l = Math.log10(v);
  return Math.abs(l - Math.round(l)) < 1e-9;
}

function makePanel(idx, xs, rows, yMin, yMax, yTicks, yLabels) {
  const canvas = document.getElementById('c' + idx);
  canvas.width = axisW + plotWidth + padRight;
  canvas.height = 331;
  canvas.style.left = (plotLeft[idx] - axisW) + 'px';

  const datasets = rows.map((row, i) => ({
    label: String(checkpoints[i]),
    data: row.map((v, k) => ({ x: xs[k], y: v })),
    borderColor: lineColor(i, rows.length),
    borderWidth: 2.4,
    pointRadius: 0,
    tension: 0,
    fill: false,
    order: rows.length - 1 - i
  }));

  new Chart(canvas, {
    type: 'line',
    data: { datasets },
    options: {
      responsive: false,
      animation: false,
      devicePixelRatio: 1,
      events: [],
      layout: { padding: { top: 8, right: padRight, left: 0, bottom: 0 } },
      plugins: { legend: { display: false }, tooltip: { enabled: false }, title: { display: false } },
      scales: {
        x: {
          type: 'logarithmic',
          min: xMin,
          max: xMax,
          afterBuildTicks: s => { s.ticks = xTicks.map(v => ({ value: v, major: isPow10(v) })); },
          afterFit: s => { s.height = 55; },
          grid: { display: false, drawTicks: false },
          border: { display: true, color: '#6e6e6e', width: 1.5 },
          ticks: {
            autoSkip: false, maxRotation: 0, padding: 11, color: '#000',
            font: { family: FONT, size: 14 },
            callback: (v, i) => xTickLabels[i]
          },
          title: { display: true, text: 'Iterations', color: '#000', font: { family: FONT, size: 20 }, padding: { top: 0, bottom: 4 } }
        },
        y: {
          type: 'logarithmic',
          min: yMin,
          max: yMax,
          afterBuildTicks: s => { s.ticks = yTicks.map(v => ({ value: v, major: isPow10(v) })); },
          afterFit: s => { s.width = axisW; },
          grid: { display: false, drawTicks: false },
          border: { display: true, color: '#6e6e6e', width: 1.5 },
          ticks: {
            autoSkip: false, padding: 7, color: '#000',
            font: { family: FONT, size: 14 },
            callback: (v, i) => yLabels[i]
          }
        }
      }
    },
    plugins: [tickMarks]
  });

  const t = document.createElement('div');
  t.className = 'title';
  t.textContent = panelTitles[idx];
  t.style.left = (plotLeft[idx] + plotWidth / 2) + 'px';
  document.getElementById('titles').appendChild(t);
}

// legend: 8 columns, filled column by column
function makeLegend() {
  const box = document.getElementById('legend');
  checkpoints.forEach((c, i) => {
    const col = Math.floor(i / 2), row = i % 2;
    const it = document.createElement('div');
    it.className = 'item';
    it.style.left = (46 + 122 * col) + 'px';
    it.style.top = (row === 0 ? 1.5 : 23.8) + 'px';
    const sw = document.createElement('span');
    sw.className = 'swatch';
    sw.style.background = lineColor(i, checkpoints.length);
    const lab = document.createElement('span');
    lab.className = 'lab';
    lab.textContent = String(c);
    it.appendChild(sw);
    it.appendChild(lab);
    box.appendChild(it);
  });
}

makeLegend();
makePanel(0, iterations, grammaticality, 0.154, 0.970, yTicksGram, yLabelsGram);
makePanel(1, iterationsDense, typeCheckDescriptive, 0.0500, 0.342, yTicksDesc, yLabelsDesc);
makePanel(2, iterations, typeCheckRelative, 0.0132, 1.13, yTicksRel, yLabelsRel);
makePanel(3, iterationsDense, typeCheckAll, 0.000985, 0.348, yTicksAll, yLabelsAll);
</script>
</body>
</html>
